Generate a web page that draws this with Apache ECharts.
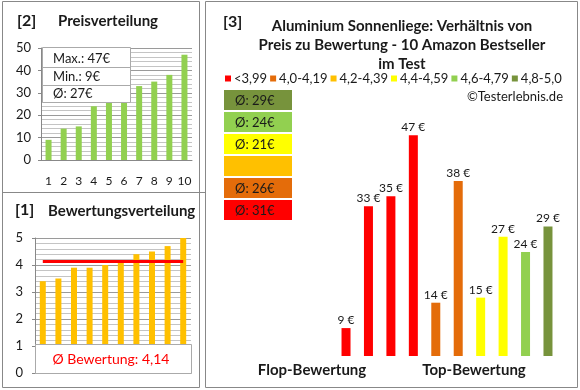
<!DOCTYPE html>
<html><head><meta charset="utf-8">
<script src="https://cdn.jsdelivr.net/npm/echarts@6/dist/echarts.min.js"></script>
<style>html,body{margin:0;padding:0;background:#fff}#c{width:580px;height:390px}</style>
</head><body><div id="c"></div>
<script>
// ---- data ----
const rankCats = ['1','2','3','4','5','6','7','8','9','10'];
const sortedPrices = [9, 14, 15, 24, 27, 29, 33, 35, 38, 47];
const sortedRatings = [3.4, 3.5, 3.9, 3.9, 4.0, 4.1, 4.4, 4.5, 4.7, 5.0];
const productPrices = [9, 33, 35, 47, 14, 38, 15, 27, 24, 29];
const productRatings = [3.4, 3.5, 3.9, 3.9, 4.0, 4.1, 4.4, 4.5, 4.7, 5.0];
const classLabels = ['<3,99', '4,0-4,19', '4,2-4,39', '4,4-4,59', '4,6-4,79', '4,8-5,0'];
const classLower = [0, 4.0, 4.2, 4.4, 4.6, 4.8];
const classColors = ['#FF0000', '#E46C0A', '#FFC000', '#FFFF00', '#92D050', '#77933C'];
const classAvg = [31, 26, null, 21, 24, 29];
const priceTicks = [0, 10, 20, 30, 40, 50];
const ratingTicks = [0, 1, 2, 3, 4, 5];

const FONT = 'Lato, "Open Sans", sans-serif';
const TXT = '#1a1a1a';

function classOf(r) { let k = 0; for (let i = 0; i < classLower.length; i++) if (r >= classLower[i] - 1e-9) k = i; return k; }

const maxP = Math.max(...sortedPrices), minP = Math.min(...sortedPrices);
const avgP = Math.round(sortedPrices.reduce((a, b) => a + b, 0) / sortedPrices.length);
const avgR = sortedRatings.reduce((a, b) => a + b, 0) / sortedRatings.length;
const avgRText = avgR.toFixed(2).replace('.', ',');

const chart = echarts.init(document.getElementById('c'), null, {renderer: 'canvas'});

const classSeries = classLabels.map((name, ci) => ({
  name: name, type: 'bar', xAxisIndex: 2, yAxisIndex: 2, stack: 'p', barWidth: 9,
  itemStyle: {color: classColors[ci]},
  label: {show: true, position: 'top', distance: 2, formatter: p => p.value + ' €',
          fontFamily: FONT, fontSize: 12, color: TXT},
  data: productPrices.map((v, i) => classOf(productRatings[i]) === ci ? v : '-')
}));

const graphics = [
  {type: 'rect', shape: {x: 2.5, y: 1.5, width: 197, height: 386}, style: {fill: 'none', stroke: '#888', lineWidth: 1}, z: 200},
  {type: 'line', shape: {x1: 2, y1: 192.5, x2: 205, y2: 192.5}, style: {stroke: '#888', lineWidth: 1}, z: 200},
  {type: 'rect', shape: {x: 205.5, y: 1.5, width: 372, height: 386}, style: {fill: 'none', stroke: '#888', lineWidth: 1}, z: 200},
  {type: 'text', style: {text: '[2]', x: 17, y: 21, verticalAlign: 'middle', font: 'bold 16px ' + FONT, fill: TXT}, z: 200},
  {type: 'text', style: {text: 'Preisverteilung', x: 58, y: 21, verticalAlign: 'middle', font: 'bold 15px ' + FONT, fill: TXT}, z: 200},
  {type: 'text', style: {text: '[1]', x: 15, y: 210, verticalAlign: 'middle', font: 'bold 16px ' + FONT, fill: TXT}, z: 200},
  {type: 'text', style: {text: 'Bewertungsverteilung', x: 48, y: 211, verticalAlign: 'middle', font: 'bold 15px ' + FONT, fill: TXT}, z: 200},
  {type: 'text', style: {text: '[3]', x: 223, y: 22, verticalAlign: 'middle', font: 'bold 16px ' + FONT, fill: TXT}, z: 200},
  {type: 'text', style: {text: 'Aluminium Sonnenliege: Verhältnis von\nPreis zu Bewertung - 10 Amazon Bestseller\nim Test',
     x: 402, y: 45, align: 'center', verticalAlign: 'middle', lineHeight: 19, font: 'bold 15px ' + FONT, fill: TXT}, z: 200},
  {type: 'text', style: {text: '©Testerlebnis.de', x: 563, y: 97, align: 'right', verticalAlign: 'middle', font: '13px ' + FONT, fill: TXT}, z: 200},
  {type: 'text', style: {text: 'Flop-Bewertung', x: 312, y: 370, align: 'center', verticalAlign: 'middle', font: 'bold 15px ' + FONT, fill: TXT}, z: 200},
  {type: 'text', style: {text: 'Top-Bewertung', x: 474, y: 370, align: 'center', verticalAlign: 'middle', font: 'bold 15px ' + FONT, fill: TXT}, z: 200},
  // price summary box
  {type: 'rect', shape: {x: 42.5, y: 47.5, width: 88, height: 55}, style: {fill: '#fff', stroke: '#aaa', lineWidth: 1}, z: 150},
  {type: 'line', shape: {x1: 42, y1: 67.5, x2: 131, y2: 67.5}, style: {stroke: '#aaa', lineWidth: 1}, z: 151},
  {type: 'line', shape: {x1: 42, y1: 85.5, x2: 131, y2: 85.5}, style: {stroke: '#aaa', lineWidth: 1}, z: 151},
  {type: 'text', style: {text: 'Max.: ' + maxP + '€', x: 53, y: 59, verticalAlign: 'middle', font: '13px ' + FONT, fill: TXT}, z: 152},
  {type: 'text', style: {text: 'Min.: ' + minP + '€', x: 53, y: 77, verticalAlign: 'middle', font: '13px ' + FONT, fill: TXT}, z: 152},
  {type: 'text', style: {text: 'Ø: ' + avgP + '€', x: 53, y: 94, verticalAlign: 'middle', font: '13px ' + FONT, fill: TXT}, z: 152},
  // rating average box
  {type: 'rect', shape: {x: 35.5, y: 344.5, width: 156, height: 29}, style: {fill: '#fff', stroke: '#aaa', lineWidth: 1}, z: 150},
  {type: 'text', style: {text: 'Ø Bewertung: ' + avgRText, x: 111, y: 359, align: 'center', verticalAlign: 'middle', font: '14px ' + FONT, fill: '#FF0000'}, z: 152}
];
// class average boxes (top: best class)
for (let k = 0; k < classLabels.length; k++) {
  const ci = classLabels.length - 1 - k;
  const y = 90 + k * 22;
  graphics.push({type: 'rect', shape: {x: 224, y: y, width: 68, height: 20}, style: {fill: classColors[ci]}, z: 150});
  if (classAvg[ci] != null)
    graphics.push({type: 'text', style: {text: 'Ø: ' + classAvg[ci] + '€', x: 235, y: y + 10.5, verticalAlign: 'middle', font: '13px ' + FONT, fill: TXT}, z: 151});
}

const gridLine = {show: true, lineStyle: {color: '#9a9a9a', width: 1}};
const minorLine = {show: true, lineStyle: {color: '#c4c4c4', width: 1}};

chart.setOption({
  animation: false,
  textStyle: {fontFamily: FONT},
  grid: [
    {left: 41, top: 48, width: 151, height: 112},
    {left: 35, top: 238, width: 156, height: 135},
    {left: 334.8, top: 120, width: 224.4, height: 236}
  ],
  legend: {
    left: 225, top: 72, itemWidth: 6, itemHeight: 6, itemGap: 3, icon: 'rect', padding: 0,
    selectedMode: false, textStyle: {fontSize: 13, color: TXT, fontFamily: FONT, padding: [0, 0, 0, -2]},
    data: classLabels
  },
  xAxis: [
    {type: 'category', gridIndex: 0, data: rankCats,
     axisLine: {lineStyle: {color: '#888'}}, axisTick: {show: false},
     axisLabel: {interval: 0, margin: 15, fontSize: 12, color: TXT, fontFamily: FONT}},
    {type: 'category', gridIndex: 1, data: rankCats,
     axisLine: {lineStyle: {color: '#888'}}, axisTick: {show: false}, axisLabel: {show: false}},
    {type: 'category', gridIndex: 2, data: rankCats, show: false}
  ],
  yAxis: [
    {type: 'value', gridIndex: 0, min: priceTicks[0], max: priceTicks[priceTicks.length - 1], interval: 10,
     axisLine: {show: true, lineStyle: {color: '#888'}}, axisTick: {show: true, length: 3, lineStyle: {color: '#888'}},
     axisLabel: {margin: 10, fontSize: 13, color: TXT, fontFamily: FONT},
     splitLine: gridLine, minorTick: {show: true, splitNumber: 5, length: 0}, minorSplitLine: minorLine},
    {type: 'value', gridIndex: 1, min: ratingTicks[0], max: ratingTicks[ratingTicks.length - 1], interval: 1,
     axisLine: {show: true, lineStyle: {color: '#888'}}, axisTick: {show: true, length: 3, lineStyle: {color: '#888'}},
     axisLabel: {margin: 12, fontSize: 13, color: TXT, fontFamily: FONT},
     splitLine: gridLine, minorTick: {show: true, splitNumber: 5, length: 0}, minorSplitLine: minorLine},
    {type: 'value', gridIndex: 2, min: 3.5, max: 50, show: false, splitLine: {show: false}}
  ],
  series: [
    {type: 'bar', xAxisIndex: 0, yAxisIndex: 0, barWidth: 6, itemStyle: {color: '#92D050'}, data: sortedPrices},
    {type: 'bar', xAxisIndex: 1, yAxisIndex: 1, barWidth: 6, itemStyle: {color: '#FFC000'}, data: sortedRatings,
     markLine: {silent: true, symbol: 'none', label: {show: false},
       lineStyle: {color: '#FF0000', width: 3, type: 'solid'},
       data: [[{coord: [0, avgR]}, {coord: [9, avgR]}]]}},
    ...classSeries
  ],
  graphic: graphics
});
</script></body></html>
